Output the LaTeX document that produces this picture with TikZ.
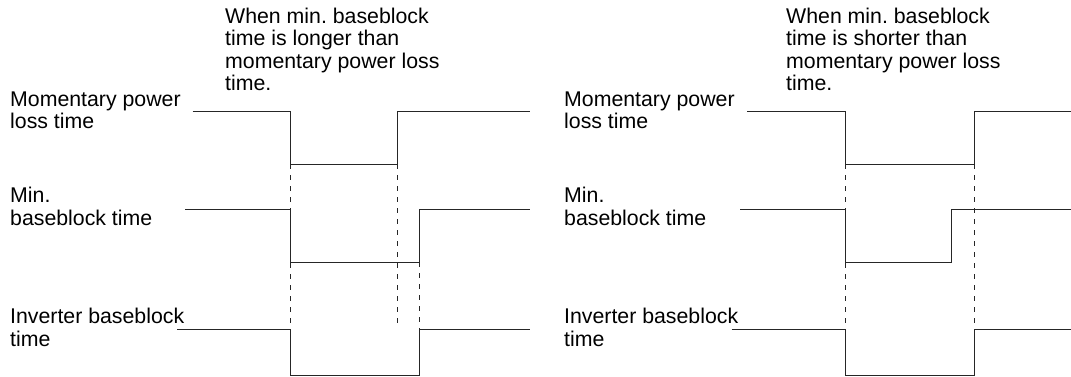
\documentclass[tikz,border=0pt]{standalone}
\usepackage{fontspec}
\setmainfont{Liberation Sans}
\frenchspacing
\tikzset{
  sig/.style={line width=0.8pt,draw=black!85},
  guide/.style={line width=0.8pt,draw=black!85,dash pattern=on 5pt off 6pt},
  lbl/.style={font=\fontsize{21.3}{22.6}\selectfont,align=left,anchor=base west,inner sep=0pt},
}
% pulse: name, y high, y low, x start, x fall, x rise, x end
\newcommand{\pulsewave}[7]{%
  \coordinate (#1a) at (#4,#2); \coordinate (#1b) at (#5,#2); \coordinate (#1c) at (#5,#3);
  \coordinate (#1d) at (#6,#3); \coordinate (#1e) at (#6,#2); \coordinate (#1f) at (#7,#2);
  \draw[sig] (#1a) -- (#1b) -- (#1c) -- (#1d) -- (#1e) -- (#1f);}

\begin{document}
\begin{tikzpicture}[x=1pt,y=-1pt]
  \useasboundingbox (0,0) rectangle (1071,377);
  % longer case
  \node[lbl] (nl) at (225,91) {When min. baseblock\\time is longer than\\momentary power loss\\time.};
  \node[lbl] (pl) at (10,129) {Momentary power\\loss time};
  \node[lbl] (ml) at (10,225) {Min.\\baseblock time};
  \node[lbl] (il) at (10,346) {Inverter baseblock\\time};
  \pulsewave{p}{111.3}{164}{192.7}{290.7}{397}{530}
  \pulsewave{m}{209.3}{262.3}{185}{290.7}{419.3}{530}
  \pulsewave{i}{329.5}{375.7}{177.3}{290.7}{419.3}{530}
  \coordinate (pg) at (397,328);
  \draw[guide] (pc) -- (ib);
  \draw[guide] (pd) -- (pg);
  \draw[guide] (md) -- (ie);
  % shorter case
  \node[lbl] (ns) at (786,91) {When min. baseblock\\time is shorter than\\momentary power loss\\time.};
  \node[lbl] (ps) at (564,129) {Momentary power\\loss time};
  \node[lbl] (ms) at (564,225) {Min.\\baseblock time};
  \node[lbl] (is) at (564,346) {Inverter baseblock\\time};
  \pulsewave{q}{111.3}{164}{747}{845.7}{974.7}{1071}
  \pulsewave{n}{209.3}{262.3}{740}{845.7}{951.7}{1071}
  \pulsewave{j}{329.5}{375.7}{731.7}{845.7}{974.7}{1071}
  \draw[guide] (qc) -- (jb);
  \draw[guide] (qd) -- (je);
\end{tikzpicture}
\end{document}
